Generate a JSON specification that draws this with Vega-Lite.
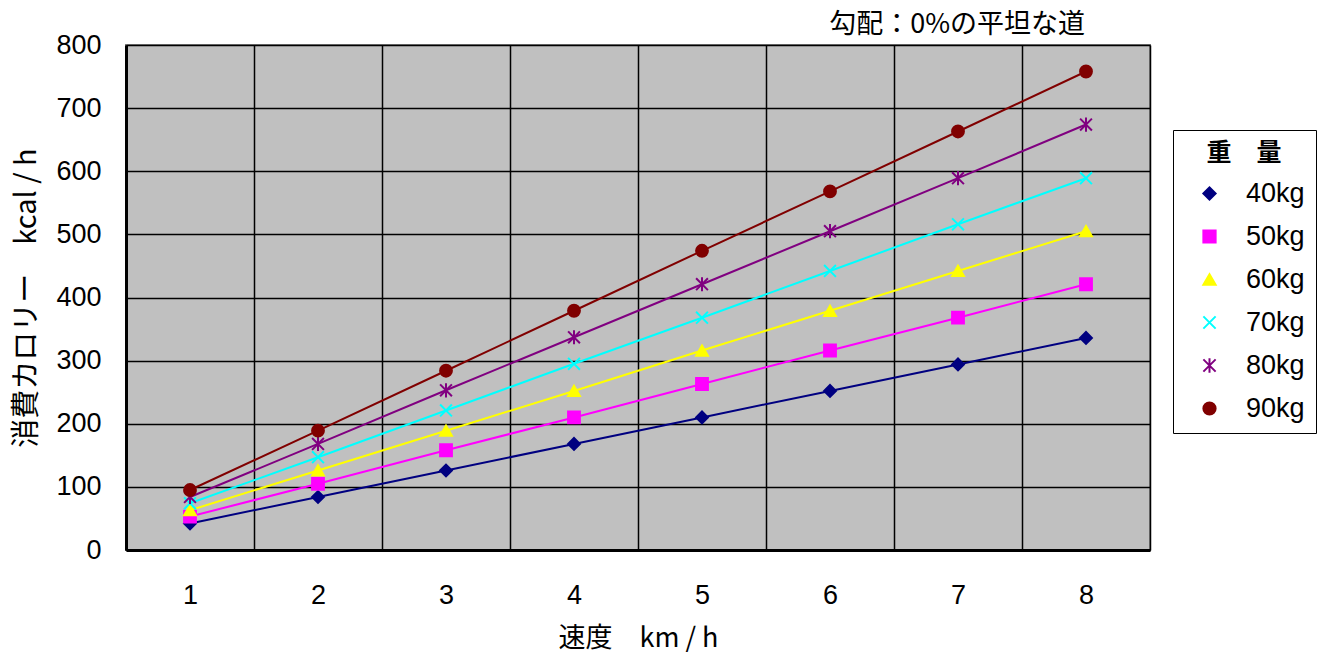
{
  "$schema": "https://vega.github.io/schema/vega-lite/v6.json",
  "autosize": "none",
  "width": 1024,
  "height": 505,
  "padding": {"left": 126, "top": 45, "right": 175, "bottom": 108},
  "background": "white",
  "title": {
    "text": "勾配：0%の平坦な道",
    "anchor": "end",
    "frame": "group",
    "dx": -65,
    "offset": -8,
    "font": "Noto Sans CJK JP",
    "fontSize": 27,
    "fontWeight": "normal",
    "color": "black"
  },
  "config": {
    "view": {"fill": "#C0C0C0", "stroke": "#808080", "strokeWidth": 2},
    "axis": {
      "labelFont": "Liberation Sans",
      "labelFontSize": 27,
      "labelColor": "black",
      "titleFont": "Noto Sans CJK JP",
      "titleFontSize": 27,
      "titleFontWeight": "normal",
      "titleColor": "black",
      "grid": true,
      "gridColor": "black",
      "gridOpacity": 1,
      "gridWidth": 1.5,
      "ticks": false,
      "domainColor": "black",
      "domainWidth": 3
    },
    "legend": {
      "strokeColor": "black",
      "padding": 11,
      "titleFont": "Noto Sans CJK JP",
      "titleFontSize": 25,
      "titleFontWeight": "bold",
      "titleColor": "black",
      "titleAnchor": "middle",
      "titlePadding": 14,
      "labelFont": "Liberation Sans",
      "labelFontSize": 27,
      "labelColor": "black",
      "labelOffset": 23,
      "symbolOffset": 12,
      "rowPadding": 15,
      "symbolSize": 150,
      "symbolStrokeWidth": 2
    }
  },
  "data": {
    "values": [
      {"speed": 1, "weight": "40kg", "kcal": 42},
      {"speed": 2, "weight": "40kg", "kcal": 84},
      {"speed": 3, "weight": "40kg", "kcal": 126},
      {"speed": 4, "weight": "40kg", "kcal": 168},
      {"speed": 5, "weight": "40kg", "kcal": 210},
      {"speed": 6, "weight": "40kg", "kcal": 252},
      {"speed": 7, "weight": "40kg", "kcal": 294},
      {"speed": 8, "weight": "40kg", "kcal": 336},
      {"speed": 1, "weight": "50kg", "kcal": 53},
      {"speed": 2, "weight": "50kg", "kcal": 105},
      {"speed": 3, "weight": "50kg", "kcal": 158},
      {"speed": 4, "weight": "50kg", "kcal": 210},
      {"speed": 5, "weight": "50kg", "kcal": 263},
      {"speed": 6, "weight": "50kg", "kcal": 316},
      {"speed": 7, "weight": "50kg", "kcal": 368},
      {"speed": 8, "weight": "50kg", "kcal": 421},
      {"speed": 1, "weight": "60kg", "kcal": 63},
      {"speed": 2, "weight": "60kg", "kcal": 126},
      {"speed": 3, "weight": "60kg", "kcal": 189},
      {"speed": 4, "weight": "60kg", "kcal": 252},
      {"speed": 5, "weight": "60kg", "kcal": 316},
      {"speed": 6, "weight": "60kg", "kcal": 379},
      {"speed": 7, "weight": "60kg", "kcal": 442},
      {"speed": 8, "weight": "60kg", "kcal": 505},
      {"speed": 1, "weight": "70kg", "kcal": 74},
      {"speed": 2, "weight": "70kg", "kcal": 147},
      {"speed": 3, "weight": "70kg", "kcal": 221},
      {"speed": 4, "weight": "70kg", "kcal": 295},
      {"speed": 5, "weight": "70kg", "kcal": 368},
      {"speed": 6, "weight": "70kg", "kcal": 442},
      {"speed": 7, "weight": "70kg", "kcal": 516},
      {"speed": 8, "weight": "70kg", "kcal": 589},
      {"speed": 1, "weight": "80kg", "kcal": 84},
      {"speed": 2, "weight": "80kg", "kcal": 168},
      {"speed": 3, "weight": "80kg", "kcal": 253},
      {"speed": 4, "weight": "80kg", "kcal": 337},
      {"speed": 5, "weight": "80kg", "kcal": 421},
      {"speed": 6, "weight": "80kg", "kcal": 505},
      {"speed": 7, "weight": "80kg", "kcal": 589},
      {"speed": 8, "weight": "80kg", "kcal": 674},
      {"speed": 1, "weight": "90kg", "kcal": 95},
      {"speed": 2, "weight": "90kg", "kcal": 189},
      {"speed": 3, "weight": "90kg", "kcal": 284},
      {"speed": 4, "weight": "90kg", "kcal": 379},
      {"speed": 5, "weight": "90kg", "kcal": 474},
      {"speed": 6, "weight": "90kg", "kcal": 568},
      {"speed": 7, "weight": "90kg", "kcal": 663},
      {"speed": 8, "weight": "90kg", "kcal": 758}
    ]
  },
  "encoding": {
    "x": {
      "field": "speed",
      "type": "ordinal",
      "scale": {"type": "band", "paddingInner": 0, "paddingOuter": 0},
      "axis": {
        "title": "速度　km / h",
        "labelAngle": 0,
        "tickBand": "extent",
        "labelPadding": 32,
        "titlePadding": 17
      }
    },
    "y": {
      "field": "kcal",
      "type": "quantitative",
      "scale": {"domain": [0, 800], "nice": false},
      "axis": {
        "title": "消費カロリー　kcal / h",
        "titleFontSize": 29,
        "values": [0, 100, 200, 300, 400, 500, 600, 700, 800],
        "labelPadding": 25,
        "titlePadding": 14
      }
    },
    "color": {
      "field": "weight",
      "type": "nominal",
      "title": "重　量",
      "scale": {"domain": ["40kg", "50kg", "60kg", "70kg", "80kg", "90kg"], "range": ["#000080", "#FF00FF", "#FFFF00", "#00FFFF", "#800080", "#800000"]},
      "legend": {
        "orient": "none",
        "legendX": 1047,
        "legendY": 85,
        "encode": {
          "symbols": {
            "update": {
              "stroke": {"scale": "color", "field": "value"},
              "strokeWidth": {"value": 2}
            }
          }
        }
      }
    }
  },
  "layer": [
    {
      "mark": {"type": "line", "strokeWidth": 2}
    },
    {
      "mark": {"type": "point", "filled": true, "opacity": 1, "strokeWidth": 2, "size": 140},
      "encoding": {
        "stroke": {
          "field": "weight",
          "type": "nominal",
          "scale": {"domain": ["40kg", "50kg", "60kg", "70kg", "80kg", "90kg"], "range": ["#000080", "#FF00FF", "#FFFF00", "#00FFFF", "#800080", "#800000"]},
          "legend": null
        },
        "shape": {
          "field": "weight",
          "type": "nominal",
          "scale": {"domain": ["40kg", "50kg", "60kg", "70kg", "80kg", "90kg"], "range": ["diamond", "square", "triangle-up", "M-1,-1L1,1M-1,1L1,-1", "M-1,-1L1,1M-1,1L1,-1M0,-1.2L0,1.2", "circle"]},
          "legend": null
        }
      }
    }
  ]
}
